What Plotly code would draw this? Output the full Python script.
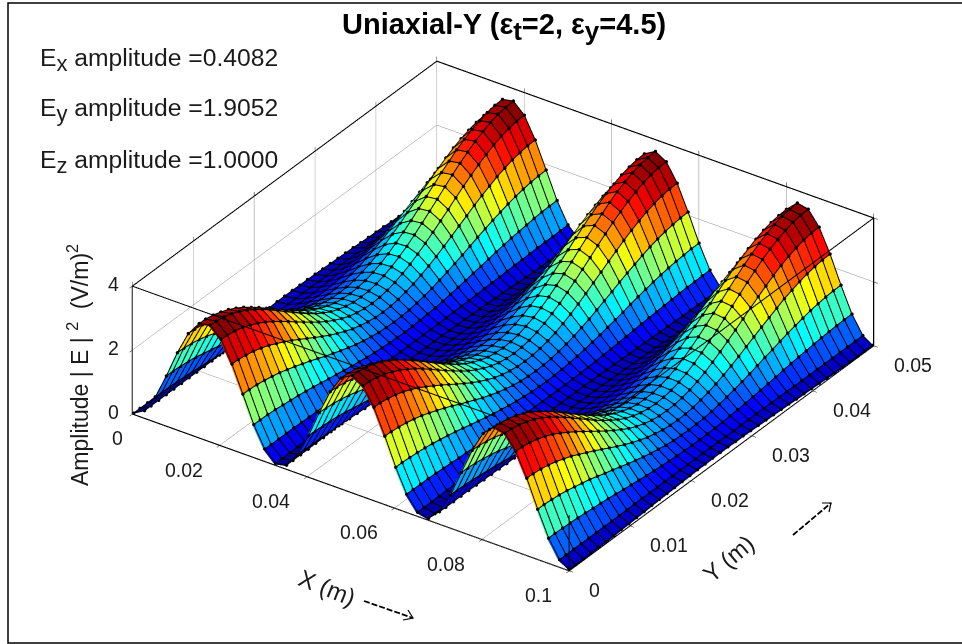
import numpy as np
import plotly.graph_objects as go

SUB = '<sub><span style="font-size:{s}px">{t}</span></sub>'
TITLE = "<b>Uniaxial-Y (ε" + SUB.format(s=26, t="t") + "=2, ε" + SUB.format(s=26, t="y") + "=4.5)</b>"
AMP_LABELS = ["E" + SUB.format(s=22, t="x") + " amplitude =0.4082",
              "E" + SUB.format(s=22, t="y") + " amplitude =1.9052",
              "E" + SUB.format(s=22, t="z") + " amplitude =1.0000"]
X_TICKS = [0, 0.02, 0.04, 0.06, 0.08, 0.1]
X_TICK_TEXT = ["0", "0.02", "0.04", "0.06", "0.08", "0.1"]
Y_TICKS = [0, 0.01, 0.02, 0.03, 0.04, 0.05]
Y_TICK_TEXT = ["0", "0.01", "0.02", "0.03", "0.04", "0.05"]
Z_TICKS = [0, 2, 4]
X_MAX = 0.1
Y_MAX = 0.05
Z_MAX = 4
# estimated |E|^2, one quadrant of the sheet (rows: x from 0 to 0.05, columns: y from 0 to 0.025)
Z_QUADRANT = [
[.00,.00,.00,.01,.02,.02,.03,.05,.06,.07,.08,.10,.11,.12,.13,.14,.15,.16,.16,.17,.17],
[.20,.20,.20,.20,.20,.20,.20,.20,.20,.20,.21,.21,.21,.21,.21,.21,.21,.21,.21,.21,.21],
[.75,.75,.74,.73,.71,.69,.66,.64,.61,.58,.54,.51,.48,.45,.42,.40,.38,.36,.35,.34,.34],
[1.53,1.53,1.51,1.48,1.44,1.38,1.32,1.26,1.18,1.10,1.03,.95,.87,.80,.73,.67,.62,.57,.54,.53,.52],
[2.38,2.37,2.34,2.29,2.22,2.13,2.04,1.92,1.80,1.68,1.55,1.42,1.29,1.17,1.06,.96,.87,.81,.75,.72,.71],
[3.10,3.09,3.05,2.98,2.89,2.78,2.64,2.49,2.33,2.16,1.99,1.82,1.65,1.49,1.34,1.20,1.09,1.00,.93,.89,.88],
[3.54,3.53,3.48,3.40,3.30,3.17,3.02,2.84,2.66,2.46,2.26,2.06,1.86,1.68,1.51,1.35,1.22,1.12,1.04,1.00,.98],
[3.61,3.59,3.55,3.47,3.36,3.23,3.07,2.90,2.71,2.51,2.30,2.10,1.90,1.71,1.53,1.38,1.24,1.14,1.06,1.01,1.00],
[3.29,3.27,3.23,3.16,3.06,2.94,2.80,2.64,2.47,2.29,2.10,1.92,1.74,1.57,1.41,1.27,1.15,1.05,.98,.94,.92],
[2.64,2.63,2.59,2.54,2.46,2.37,2.25,2.13,2.00,1.85,1.71,1.56,1.42,1.28,1.16,1.05,.95,.88,.82,.78,.77],
[1.82,1.81,1.79,1.75,1.70,1.64,1.56,1.48,1.39,1.30,1.20,1.10,1.01,.92,.84,.76,.70,.65,.61,.59,.58],
[.99,.99,.98,.96,.93,.90,.87,.83,.79,.74,.69,.65,.60,.56,.52,.48,.45,.43,.41,.40,.39],
[.35,.34,.34,.34,.34,.33,.32,.32,.31,.30,.30,.29,.28,.27,.27,.26,.26,.25,.25,.25,.25],
[.02,.02,.03,.03,.04,.04,.05,.06,.07,.09,.10,.11,.12,.13,.14,.15,.16,.16,.17,.17,.17],
[.09,.09,.09,.09,.10,.10,.11,.12,.12,.13,.14,.15,.15,.16,.17,.17,.18,.18,.19,.19,.19],
[.53,.53,.52,.52,.51,.49,.48,.46,.45,.43,.41,.39,.37,.35,.34,.32,.31,.30,.29,.29,.29],
[1.25,1.25,1.23,1.21,1.18,1.14,1.09,1.04,.98,.92,.85,.79,.73,.67,.62,.57,.53,.50,.47,.46,.45],
[2.10,2.09,2.06,2.02,1.96,1.89,1.80,1.70,1.60,1.49,1.37,1.26,1.15,1.04,.95,.86,.79,.73,.68,.66,.65],
[2.88,2.87,2.83,2.77,2.69,2.58,2.46,2.32,2.17,2.02,1.86,1.70,1.54,1.39,1.25,1.13,1.02,.94,.88,.84,.83],
[3.43,3.42,3.37,3.30,3.19,3.07,2.92,2.76,2.58,2.39,2.19,2.00,1.81,1.63,1.46,1.32,1.19,1.09,1.01,.97,.95],
[3.63,3.61,3.57,3.49,3.38,3.25,3.09,2.91,2.72,2.52,2.32,2.11,1.91,1.72,1.54,1.38,1.25,1.15,1.06,1.02,1.00],
]
JET = [[0, "#00008f"], [0.11, "#0000ff"], [0.36, "#00ffff"], [0.61, "#ffff00"], [0.86, "#ff0000"], [1, "#800000"]]

q = np.array(Z_QUADRANT)
z = np.vstack([q, q[-2::-1]])
z = np.hstack([z, z[:, -2::-1]])
nx, ny = z.shape
x = np.linspace(0, X_MAX, nx)
y = np.linspace(0, Y_MAX, ny)
X, Y = np.meshgrid(x, y, indexing="ij")

idx = np.arange(nx * ny).reshape(nx, ny)
a, b, c, d = idx[:-1, :-1].ravel(), idx[1:, :-1].ravel(), idx[1:, 1:].ravel(), idx[:-1, 1:].ravel()
cell = z[:-1, :-1].ravel()
mesh = go.Mesh3d(
    x=X.ravel(), y=Y.ravel(), z=z.ravel(),
    i=np.concatenate([a, a]), j=np.concatenate([b, c]), k=np.concatenate([c, d]),
    intensity=np.concatenate([cell, cell]), intensitymode="cell",
    colorscale=JET, cmin=0, cmax=3.63, showscale=False, flatshading=True,
    lighting=dict(ambient=1, diffuse=0, specular=0, roughness=1, fresnel=0),
    hoverinfo="skip",
)

# the wire mesh sits a hair towards the viewer so steep faces do not swallow it
Xw = np.clip(X + 0.0003, 0, X_MAX)
Yw = np.clip(Y - 0.0002, 0, Y_MAX)
Zw = z + 0.044
lx, ly, lz = [], [], []
for r in range(nx):
    lx += list(Xw[r, :]) + [None]; ly += list(Yw[r, :]) + [None]; lz += list(Zw[r, :]) + [None]
for s in range(ny):
    lx += list(Xw[:, s]) + [None]; ly += list(Yw[:, s]) + [None]; lz += list(Zw[:, s]) + [None]
wire = go.Scatter3d(x=lx, y=ly, z=lz, mode="lines+markers", line=dict(color="black", width=2),
                    marker=dict(color="black", size=2), hoverinfo="skip", showlegend=False)
box = go.Scatter3d(
    x=[0, X_MAX, X_MAX, None, X_MAX, X_MAX], y=[0, 0, Y_MAX, None, 0, 0], z=[Z_MAX, Z_MAX, Z_MAX, None, 0, Z_MAX],
    mode="lines", line=dict(color="black", width=2), hoverinfo="skip", showlegend=False)

FONT = "Liberation Sans, Arial, sans-serif"
def axis(vals, rng):
    return dict(range=rng, tickvals=vals, showticklabels=False, title=dict(text=""), showbackground=False,
                gridcolor="#8c8c8c", gridwidth=1, showline=True, linecolor="black", linewidth=2.5, mirror="all",
                ticks="outside", ticklen=5, tickcolor="black", zeroline=False, showspikes=False)

TICK_FONT = dict(family=FONT, size=19.5, color="#1a1a1a")
tick_labels = []
for v, t in zip(X_TICKS, X_TICK_TEXT):
    tick_labels.append(dict(x=v, y=0, z=0, text=t, showarrow=False, xanchor="right", yanchor="middle",
                            xshift=-8 if t == "0" else -15, yshift=-24, font=TICK_FONT))
for v, t in zip(Y_TICKS, Y_TICK_TEXT):
    tick_labels.append(dict(x=X_MAX, y=v, z=0, text=t, showarrow=False, xanchor="left", yanchor="middle",
                            xshift=18, yshift=-19, font=TICK_FONT))
for v in Z_TICKS:
    tick_labels.append(dict(x=0, y=0, z=v, text=str(v), showarrow=False, xanchor="right", yanchor="middle",
                            xshift=-12, yshift=2, font=TICK_FONT))

fig = go.Figure([mesh, wire, box])
fig.update_layout(
    width=962, height=644, margin=dict(l=0, r=0, t=0, b=0), paper_bgcolor="white", showlegend=False,
    font=dict(family=FONT, color="black"),
    scene=dict(
        domain=dict(x=[0.046, 1.0], y=[0.018, 1.0]),
        xaxis=axis(X_TICKS, [0, X_MAX]),
        yaxis=axis(Y_TICKS, [0, Y_MAX]),
        zaxis=axis(Z_TICKS, [0, Z_MAX]),
        aspectmode="manual", aspectratio=dict(x=1.685, y=1.685, z=0.472),
        camera=dict(eye=dict(x=0.49, y=-0.703, z=0.515), up=dict(x=0, y=0, z=1), center=dict(x=0, y=0, z=0),
                    projection=dict(type="orthographic")),
        annotations=tick_labels,
    ),
    annotations=[
        dict(text=TITLE, x=504/962, y=1-27/644, xref="paper", yref="paper", yanchor="middle", showarrow=False, font=dict(size=29, color="black")),
        *[dict(text=t, x=38/962, y=1-yy/644, xref="paper", yref="paper", xanchor="left", yanchor="middle", showarrow=False, font=dict(size=24.7, color="#1a1a1a"))
          for t, yy in zip(AMP_LABELS, [60, 110, 162])],
        dict(text="Amplitude | E | <sup>2</sup>  (V/m)<sup>2</sup>", x=61/962, y=1-365/644, xref="paper", yref="paper", yanchor="middle", textangle=-90, showarrow=False, font=dict(size=23, color="#1a1a1a")),
        dict(text="X (m)", x=327/962, y=1-587/644, xref="paper", yref="paper", yanchor="middle", textangle=22, showarrow=False, font=dict(size=24, color="#1a1a1a")),
        dict(text="Y (m)", x=762/962, y=1-558/644, xref="paper", yref="paper", yanchor="middle", textangle=-40, showarrow=False, font=dict(size=24, color="#1a1a1a")),
    ],
    shapes=[
        dict(type="rect", xref="paper", yref="paper", x0=8/962, x1=1.02, y0=1-643/644, y1=1-3/644, line=dict(color="black", width=1.5)),
        dict(type="line", xref="paper", yref="paper", x0=364/962, y0=1-601/644, x1=413/962, y1=1-618/644, line=dict(color="black", width=1.8, dash="6px,2px")),
        dict(type="path", xref="paper", yref="paper", path=f"M {403/962} {1-620/644} L {413/962} {1-618/644} L {408/962} {1-610/644}", line=dict(color="black", width=1.2)),
        dict(type="line", xref="paper", yref="paper", x0=793/962, y0=1-535/644, x1=831/962, y1=1-503/644, line=dict(color="black", width=1.8, dash="6px,2px")),
        dict(type="path", xref="paper", yref="paper", path=f"M {822/962} {1-503/644} L {831/962} {1-503/644} L {829/962} {1-512/644}", line=dict(color="black", width=1.2)),
    ],
)
fig.write_html("out.html", config=dict(displayModeBar=False), post_script="document.body.style.margin='0';document.body.style.overflow='hidden';")
